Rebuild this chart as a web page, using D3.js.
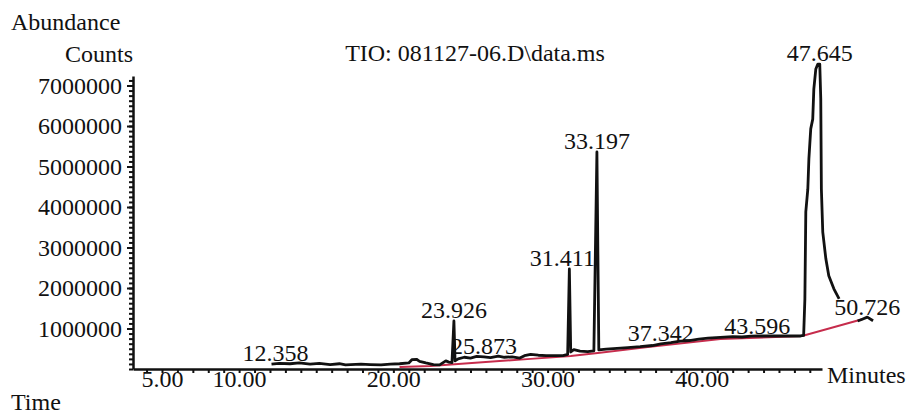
<!DOCTYPE html>
<html>
<head>
<meta charset="utf-8">
<script src="https://cdn.jsdelivr.net/npm/d3@7"></script>
<style>
  body { margin: 0; background: #fff; }
  svg text { font-family: "Liberation Serif", "Tinos", "DejaVu Serif", serif; font-size: 24px; fill: #111; }
</style>
</head>
<body>
<svg id="chart"></svg>
<script>
// Chromatogram trace (minutes, counts); null marks a gap in the trace
const traceTime = [
    12.1, 12.6, 13.3, 13.9, 14.6, 15.2, 15.9, 16.5, 16.9, 17.9, 18.5, 19.2, 19.8, 20.4,
    21.0, 21.2, 21.5, 21.7, 22.1, 22.6, 23.0, 23.4, 23.6, 23.8, 23.926, 24.0, 24.2, 24.6,
    25.0, 25.4, 25.873, 26.3, 26.8, 27.2, 27.7, 28.2, 28.5, 28.9, 29.4, 29.9, 30.5, 31.0,
    31.3, 31.411, 31.5, 31.7, 32.1, 32.6, 33.0, 33.197, 33.32, 33.8, 34.5, 35.2, 36.0,
    36.8, 37.342, 38.0, 38.6, 39.2, 39.8, 40.4, 41.2, 42.0, 42.6, 43.2, 43.596, 44.5,
    45.5, 46.4, 46.6, 46.68, 46.74, 46.87, 46.94, 47.06, 47.19, 47.26, 47.39, 47.52,
    47.645, 47.71, 47.75, 47.84, 48.04, 48.23, 48.56, 48.9, 49.5, 50.1, 50.4, 50.726, 51.1
];
const traceCounts = [
    120000, 140000, 130000, 150000, 120000, 140000, 110000, 130000, 100000, 120000, 110000, 100000, 120000, 130000,
    150000, 230000, 240000, 190000, 150000, 110000, 100000, 200000, 170000, 160000, 1185000, 200000, 250000, 290000,
    270000, 310000, 300000, 280000, 320000, 290000, 300000, 270000, 330000, 360000, 340000, 330000, 330000, 330000,
    360000, 2470000, 420000, 480000, 440000, 430000, 450000, 5360000, 470000, 490000, 510000, 530000, 550000,
    580000, 620000, 650000, 690000, 700000, 740000, 760000, 780000, 800000, 790000, 810000, 815000, 815000,
    815000, 815000, 830000, 1730000, 3880000, 4440000, 5190000, 5930000, 6170000, 6910000, 7410000, 7530000,
    7530000, 6670000, 4440000, 3380000, 2720000, 2300000, 1980000, 1730000, null, 1185000, 1230000, 1280000, 1190000
];

// Integration baseline (red)
const baseTime = [20.4, 22.4, 28.9, 31.5, 33.25, 36.5, 41.2, 46.5, 50.4];
const baseCounts = [50000, 75000, 250000, 320000, 395000, 540000, 740000, 815000, 1230000];

// Peak labels: retention time and apex height
const peakTimes = [12.358, 23.926, 25.873, 31.411, 33.197, 37.342, 43.596, 47.645, 50.726];
const peakCounts = [123000, 1185000, 300000, 2470000, 5360000, 620000, 790000, 7530000, 1260000];

// Tick labels
const xTickLabels = [5, 10, 20, 30, 40];
const yTickLabels = [1000000, 2000000, 3000000, 4000000, 5000000, 6000000, 7000000];

const width = 909;
const height = 415;
const margin = { top: 76, right: 87, bottom: 46, left: 133 };

// label pushed left so it clears the 33.197 peak
const labelNudge = { "31.411": -7 };

const svg = d3.select("#chart")
    .attr("width", width)
    .attr("height", height);

// Scales
const xScale = d3.scaleLinear()
    .domain([3.12, 47.79])
    .range([margin.left, width - margin.right]);

const yScale = d3.scaleLinear()
    .domain([0, 7235000])
    .range([height - margin.bottom, margin.top]);

// X axis: minor ticks every minute, then labels
const xAxisG = svg.append("g")
    .attr("transform", `translate(0, ${height - margin.bottom})`);
xAxisG.call(d3.axisBottom(xScale)
    .tickValues(d3.range(4, 48, 1))
    .tickSize(4)
    .tickSizeOuter(0)
    .tickFormat(""));
xAxisG.append("g").call(d3.axisBottom(xScale)
    .tickValues(xTickLabels)
    .tickSize(0)
    .tickPadding(1)
    .tickFormat(d3.format(".2f")));
xAxisG.selectAll("g g .domain").remove();

// Y axis: minor ticks, major ticks, labels
const yAxisG = svg.append("g")
    .attr("transform", `translate(${margin.left}, 0)`);
yAxisG.call(d3.axisLeft(yScale)
    .tickValues(d3.range(0, 7235000, 125000))
    .tickSize(4)
    .tickSizeOuter(0)
    .tickFormat(""));
yAxisG.append("g").call(d3.axisLeft(yScale)
    .tickValues(yTickLabels)
    .tickSize(6)
    .tickPadding(5)
    .tickFormat(d3.format("d")));
yAxisG.selectAll("g g .domain").remove();

svg.selectAll("g").attr("font-family", null).attr("font-size", null);
svg.selectAll(".domain").attr("stroke", "#111").attr("stroke-width", 2.5);
svg.selectAll(".tick line").attr("stroke", "#111").attr("stroke-width", 2);
svg.selectAll(".tick text").attr("fill", "#111");

// Baseline (red)
const baseLine = d3.line()
    .x((d, i) => xScale(baseTime[i]))
    .y(d => yScale(d));
svg.append("path")
    .datum(baseCounts)
    .attr("fill", "none")
    .attr("stroke", "#c62c4c")
    .attr("stroke-width", 2)
    .attr("d", baseLine);

// Trace (black)
const traceLine = d3.line()
    .defined(d => d !== null)
    .x((d, i) => xScale(traceTime[i]))
    .y(d => yScale(d));
svg.append("path")
    .datum(traceCounts)
    .attr("fill", "none")
    .attr("stroke", "#111")
    .attr("stroke-width", 2.8)
    .attr("stroke-linejoin", "round")
    .attr("d", traceLine);

// Peak labels
svg.selectAll(".peak-label")
    .data(peakTimes)
    .enter()
    .append("text")
    .attr("class", "peak-label")
    .attr("x", d => xScale(d) + (labelNudge[d] || 0))
    .attr("y", (d, i) => yScale(peakCounts[i]) - 3)
    .attr("text-anchor", "middle")
    .text(d => d.toFixed(3));

// Titles
svg.append("text").attr("x", 11).attr("y", 30).text("Abundance");
svg.append("text").attr("x", margin.left).attr("y", 62).attr("text-anchor", "end").text("Counts");
svg.append("text").attr("x", 475).attr("y", 61).attr("text-anchor", "middle").text("TIO: 081127-06.D\\data.ms");
svg.append("text").attr("x", width - margin.right + 5).attr("y", 383).text("Minutes");
svg.append("text").attr("x", 11).attr("y", 410).text("Time");
</script>
</body>
</html>
